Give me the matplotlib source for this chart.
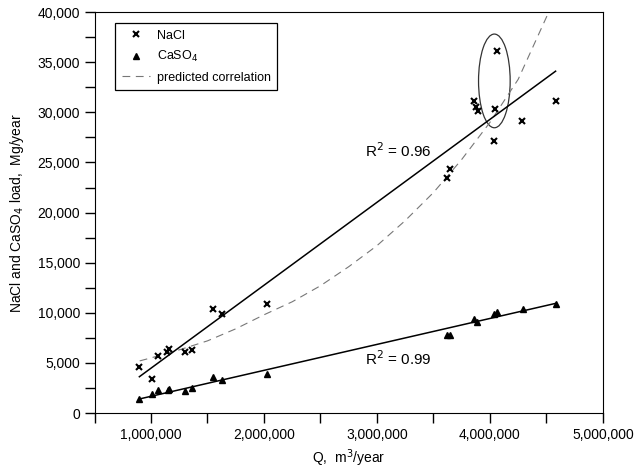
import matplotlib.pyplot as plt
from matplotlib.patches import Ellipse
from matplotlib.ticker import MultipleLocator, FuncFormatter

plt.rcParams['font.family'] = ['Liberation Sans', 'DejaVu Sans']
plt.rcParams['font.size'] = 10

# NaCl measurements (Q in m3/year, load in Mg/year)
nacl_q = [897000, 1011000, 1065000, 1144000, 1159000, 1301000, 1360000, 1549000,
          1631000, 2027000, 3617000, 3643000, 3858000, 3876000, 3891000, 4038000,
          4041000, 4065000, 4286000, 4581000]
nacl_load = [4620, 3420, 5690, 6120, 6420, 6085, 6285, 10370, 9900, 10870,
             23410, 24340, 31120, 30560, 30120, 27130, 30290, 36140, 29160, 31120]

# CaSO4 measurements
caso4_q = [897000, 1011000, 1065000, 1150000, 1162000, 1301000, 1360000, 1546000,
           1628000, 2027000, 3619000, 3649000, 3856000, 3888000, 4038000, 4065000,
           4289000, 4581000]
caso4_load = [1400, 1860, 2260, 2290, 2360, 2160, 2460, 3620, 3260, 3920,
              7750, 7750, 9380, 9080, 9880, 10100, 10340, 10840]

# regression line end points
nacl_fit_q = [897000, 4581000]
nacl_fit_load = [3620, 34110]
caso4_fit_q = [897000, 4581000]
caso4_fit_load = [1400, 10940]

# predicted correlation curve
pred_q = [900000, 1000000, 1250000, 1500000, 1750000, 2000000, 2250000, 2500000,
          2750000, 3000000, 3250000, 3500000, 3750000, 4000000, 4250000, 4520000]
pred_load = [5200, 5500, 6300, 7200, 8400, 9800, 11100, 12700, 14600, 16700,
             19200, 22000, 25300, 29000, 33300, 40000]

fig = plt.figure(figsize=(6.36, 4.68), dpi=100)
ax = fig.add_axes([0.1486, 0.1175, 0.7994, 0.8565])

ax.plot(pred_q, pred_load, color='#777777', lw=0.8, dashes=(7, 5),
        label='predicted correlation', zorder=2)
ax.plot(nacl_fit_q, nacl_fit_load, color='black', lw=1.1, zorder=3)
ax.plot(caso4_fit_q, caso4_fit_load, color='black', lw=1.1, zorder=3)
ax.plot(nacl_q, nacl_load, 'x', color='black', ms=5, mew=1.5, label='NaCl', zorder=4)
ax.plot(caso4_q, caso4_load, '^', color='black', ms=4.5, label='CaSO$_4$', zorder=4)

ax.add_patch(Ellipse((4039000, 33140), 280000, 9350, fill=False,
                     edgecolor='#333333', lw=0.9))

ax.text(2894000, 26230, 'R$^2$ = 0.96', fontsize=11, va='center')
ax.text(2894000, 5390, 'R$^2$ = 0.99', fontsize=11, va='center')

ax.set_xlim(500000, 5000000)
ax.set_ylim(0, 40000)
ax.xaxis.set_major_locator(MultipleLocator(500000))
ax.yaxis.set_major_locator(MultipleLocator(2500))
ax.xaxis.set_major_formatter(FuncFormatter(
    lambda v, p: f'{int(round(v)):,}' if round(v) % 1000000 == 0 else ''))
ax.yaxis.set_major_formatter(FuncFormatter(
    lambda v, p: f'{int(round(v)):,}' if round(v) % 5000 == 0 else ''))
ax.tick_params(direction='out', length=7, width=1, labelsize=10)

ax.set_xlabel('Q,  m$^3$/year', fontsize=10, labelpad=4)
ax.set_ylabel('NaCl and CaSO$_4$ load,  Mg/year', fontsize=10, labelpad=8)

leg = ax.legend(handles=[ax.lines[3], ax.lines[4], ax.lines[0]],
                loc='upper left', bbox_to_anchor=(0.041, 0.972),
                fancybox=False, edgecolor='black', framealpha=1,
                fontsize=9, handlelength=2.3, handletextpad=0.55,
                borderpad=0.5, labelspacing=0.6, borderaxespad=0)
leg.get_frame().set_linewidth(0.9)

fig.savefig('out.png', dpi=100)
